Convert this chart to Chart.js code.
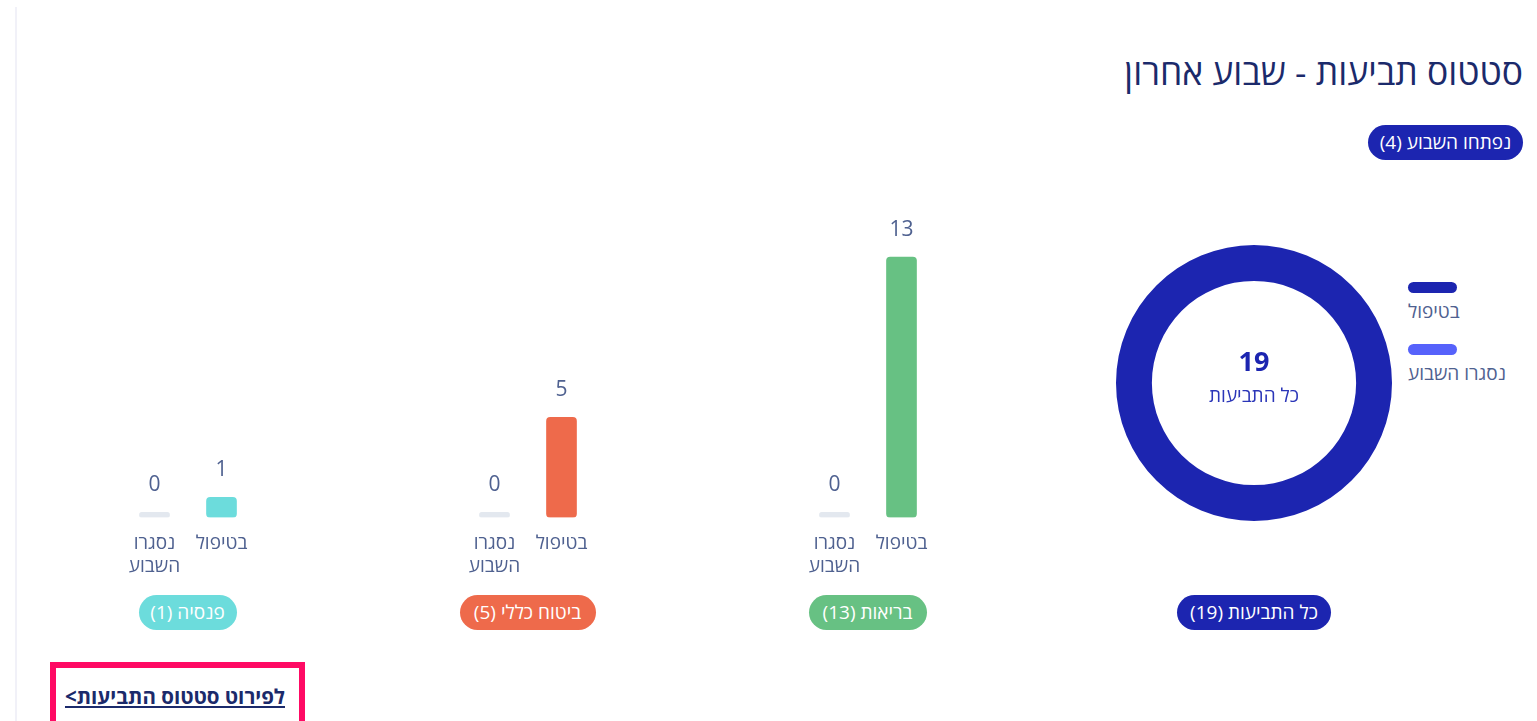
<!DOCTYPE html>
<html lang="he" dir="rtl">
<head>
<meta charset="UTF-8">
<title>סטטוס תביעות - שבוע אחרון</title>
<script src="https://cdn.jsdelivr.net/npm/chart.js@4"></script>
<style>
    html, body { margin: 0; padding: 0; background: #fff; }
    body { width: 1537px; height: 721px; position: relative; overflow: hidden; font-family: "Open Sans", "Liberation Sans", "DejaVu Sans", sans-serif; }
    .borde { position: absolute; left: 15px; top: 7px; bottom: 0; width: 2px; background: #f1f1f8; }
    h2 { position: absolute; right: 14px; top: 47px; margin: 0; font-size: 35.5px; font-weight: 400; color: #1b2a6b; white-space: nowrap; }
    .pill { position: absolute; height: 35px; line-height: 35px; border-radius: 18px; color: #fff; font-size: 19px; text-align: center; white-space: nowrap; }
    .leyenda { position: absolute; left: 1408px; top: 282px; direction: ltr; }
    .leyenda .item { height: 62px; }
    .leyenda .sw { width: 49px; height: 11px; border-radius: 6px; }
    .leyenda .tx { font-size: 19px; color: #4f6190; margin-top: 5px; text-align: left; direction: rtl; unicode-bidi: plaintext; }
    canvas { position: absolute; }
    .enlace { position: absolute; left: 50px; top: 662px; width: 243px; height: 70px; border: 6px solid #ff0a64; }
    .enlace a { position: absolute; right: 14px; top: 14px; font-size: 20.5px; font-weight: 700; color: #1b2a6b; white-space: nowrap; text-decoration: underline; }
</style>
</head>
<body>
<div class="borde"></div>
<h2>סטטוס תביעות - שבוע אחרון</h2>
<div class="pill" id="pill-abiertas" style="left:1368px; top:125px; width:155px; background:#1c25b0;"></div>

<canvas id="dona" width="276" height="276" style="left:1116px; top:245px;"></canvas>
<div class="leyenda" id="leyenda"></div>
<div class="pill" id="pill-total" style="left:1177px; top:595px; width:154px; background:#1c25b0;"></div>

<div class="enlace"><a href="#">לפירוט סטטוס התביעות&gt;</a></div>

<script>
    // datos
    const categorias = [['בטיפול'], ['נסגרו', 'השבוע']];
    const ramos = ['בריאות', 'ביטוח כללי', 'פנסיה'];
    const enTratamiento = [13, 5, 1];
    const cerradasSemana = [0, 0, 0];
    const coloresRamo = ['#67c183', '#ee6a4b', '#6cdcdc'];
    const donaEtiquetas = ['בטיפול', 'נסגרו השבוע'];
    const donaValores = [19, 0];
    const donaColores = ['#1c25b0', '#5662fb'];
    const abiertasSemana = 4;
    const totalTexto = 'כל התביעות';
    const abiertasTexto = 'נפתחו השבוע';

    const centrosRamo = [867.5, 527.5, 187.5];
    const anchoPill = [118, 136, 98];
    const yMax = 14;

    Chart.defaults.font.family = '"Open Sans", "Liberation Sans", "DejaVu Sans", sans-serif';
    Chart.defaults.color = '#4f6190';

    const total = donaValores.reduce((a, b) => a + b, 0);
    document.getElementById('pill-abiertas').textContent = abiertasTexto + ' (' + abiertasSemana + ')';
    document.getElementById('pill-total').textContent = totalTexto + ' (' + total + ')';

    // leyenda de la dona
    const leyenda = document.getElementById('leyenda');
    donaEtiquetas.forEach((et, i) => {
        const item = document.createElement('div');
        item.className = 'item';
        item.innerHTML = '<div class="sw" style="background:' + donaColores[i] + '"></div><div class="tx">' + et + '</div>';
        leyenda.appendChild(item);
    });

    const textoCentro = {
        id: 'textoCentro',
        afterDraw(chart) {
            const ctx = chart.ctx;
            const arco = chart.getDatasetMeta(0).data[0];
            ctx.save();
            ctx.textAlign = 'center';
            ctx.textBaseline = 'middle';
            ctx.fillStyle = '#1c25b0';
            ctx.font = 'bold 27px ' + Chart.defaults.font.family;
            ctx.fillText(total, arco.x, arco.y - 20);
            ctx.fillStyle = '#2b36b8';
            ctx.font = '19px ' + Chart.defaults.font.family;
            ctx.fillText(totalTexto, arco.x, arco.y + 14);
            ctx.restore();
        }
    };

    new Chart(document.getElementById('dona'), {
        type: 'doughnut',
        data: {
            labels: donaEtiquetas,
            datasets: [{ data: donaValores, backgroundColor: donaColores, borderWidth: 0 }]
        },
        options: {
            responsive: false,
            animation: false,
            cutout: '74%',
            layout: { padding: 0 },
            plugins: { legend: { display: false }, tooltip: { enabled: false } }
        },
        plugins: [textoCentro]
    });

    const valoresArriba = {
        id: 'valoresArriba',
        afterDatasetsDraw(chart) {
            const ctx = chart.ctx;
            const meta = chart.getDatasetMeta(0);
            ctx.save();
            ctx.textAlign = 'center';
            ctx.textBaseline = 'middle';
            ctx.fillStyle = '#4f6190';
            ctx.font = '21px ' + Chart.defaults.font.family;
            meta.data.forEach((barra, i) => {
                const tope = Math.min(barra.y, barra.base);
                ctx.fillText(chart.data.datasets[0].data[i], barra.x, tope - 27);
            });
            ctx.restore();
        }
    };

    ramos.forEach((ramo, g) => {
        const cv = document.createElement('canvas');
        cv.width = 134;
        cv.height = 393;
        cv.style.left = (centrosRamo[g] - 67) + 'px';
        cv.style.top = '200px';
        document.body.appendChild(cv);

        const color = coloresRamo[g];
        new Chart(cv, {
            type: 'bar',
            data: {
                labels: categorias,
                datasets: [{
                    data: [enTratamiento[g], cerradasSemana[g]],
                    backgroundColor: c => c.raw === 0 ? '#e3e8ef' : color,
                    barThickness: 30,
                    minBarLength: 5,
                    borderRadius: 4,
                    borderSkipped: false
                }]
            },
            options: {
                responsive: false,
                animation: false,
                layout: { padding: { top: 37, left: 0, right: 0, bottom: 0 } },
                scales: {
                    x: {
                        reverse: true,
                        grid: { display: false, drawTicks: false },
                        border: { display: false },
                        ticks: { padding: 15, font: { size: 19, lineHeight: 1.2 }, color: '#4f6190', maxRotation: 0, autoSkip: false }
                    },
                    y: { display: false, min: 0, max: yMax }
                },
                plugins: { legend: { display: false }, tooltip: { enabled: false } }
            },
            plugins: [valoresArriba]
        });

        const pill = document.createElement('div');
        pill.className = 'pill';
        pill.style.left = (centrosRamo[g] - anchoPill[g] / 2) + 'px';
        pill.style.top = '595px';
        pill.style.width = anchoPill[g] + 'px';
        pill.style.background = color;
        pill.textContent = ramo + ' (' + enTratamiento[g] + ')';
        document.body.appendChild(pill);
    });
</script>
</body>
</html>
